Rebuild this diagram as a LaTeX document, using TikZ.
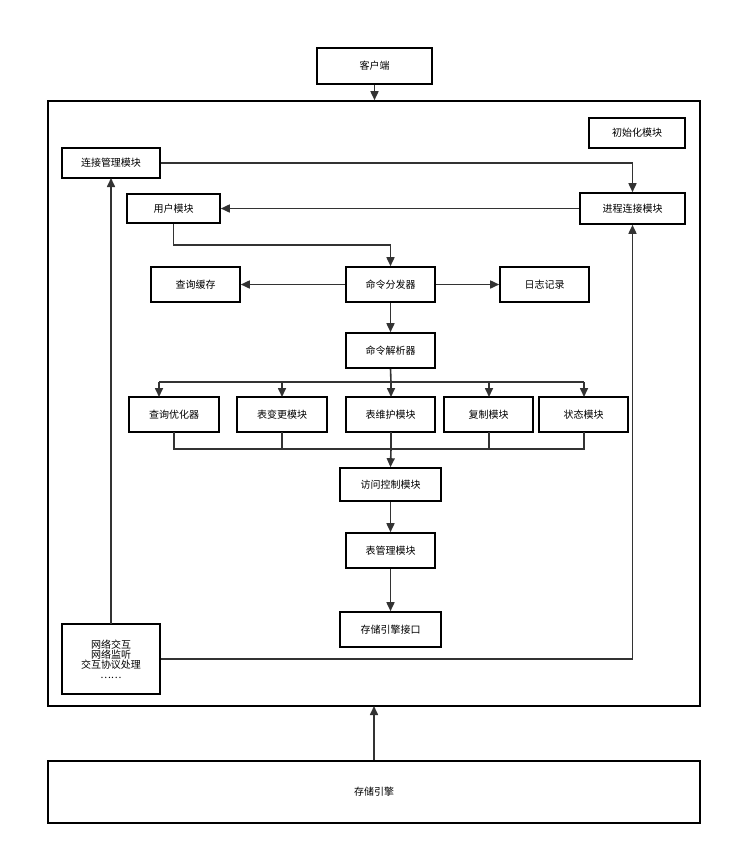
\documentclass[tikz,border=0pt]{standalone}
\usepackage{fontspec}
\setmainfont{Noto Sans CJK SC}
\usetikzlibrary{arrows.meta}
\begin{document}
\begin{tikzpicture}[x=1pt,y=-1pt,
  bx/.style={draw=black,line width=1.6pt,inner sep=0pt,font=\fontsize{10}{12}\selectfont,align=center},
  ar/.style={draw=black!80,line width=1.6pt,-{Triangle[length=9pt,width=8pt]}},
  ln/.style={draw=black!80,line width=1.6pt}]
\useasboundingbox[fill=white] (0,0) rectangle (732,855);
\newcommand{\bxat}[5]{\node[bx,minimum width=#3-#2,minimum height=#5-#4] (#1) at ({(#2+#3)/2},{(#4+#5)/2})}
\bxat{client}{317}{432}{48}{84}{客户端};
\bxat{outer}{48}{700}{101}{706}{};
\bxat{init}{589}{685}{118}{148}{初始化模块};
\bxat{conn}{62}{160}{148}{178}{连接管理模块};
\bxat{proc}{580}{685}{193}{224}{进程连接模块};
\bxat{user}{127}{220}{194}{223}{用户模块};
\bxat{qc}{151}{240}{267}{302}{查询缓存};
\bxat{disp}{346}{435}{267}{302}{命令分发器};
\bxat{log}{500}{589}{267}{302}{日志记录};
\bxat{parse}{346}{435}{333}{368}{命令解析器};
\bxat{r1}{129}{219}{397}{432}{查询优化器};
\bxat{r2}{237}{327}{397}{432}{表变更模块};
\bxat{r3}{346}{435}{397}{432}{表维护模块};
\bxat{r4}{444}{533}{397}{432}{复制模块};
\bxat{r5}{539}{628}{397}{432}{状态模块};
\bxat{acc}{340}{441}{468}{501}{访问控制模块};
\bxat{tbl}{346}{435}{533}{568}{表管理模块};
\bxat{sei}{340}{441}{612}{647}{存储引擎接口};
\bxat{net}{62}{160}{624}{694}{网络交互\\[-2pt]网络监听\\[-2pt]交互协议处理\\[-2pt]……};
\bxat{se}{48}{700}{761}{823}{存储引擎};
\draw[ar] (client) -- (client.south|-outer.north);
\draw[ar] (conn.east) -| (proc.north);
\draw[ar] (proc.west) -- (proc.west-|user.east);
\draw[ar] (user.south) |- (174,245) -| (disp.north);
\draw[ar] (disp) -- (qc);
\draw[ar] (disp) -- (log);
\draw[ar] (disp) -- (parse);
\coordinate (hb) at (391,382);
\draw[ln] (parse.south) -- (hb);
\draw[ln] (159,382) -- (584,382);
\foreach \n/\x in {r1/159,r2/282,r3/391,r4/489,r5/584} \draw[ar] (\x,382) -- (\x,397);
\draw[ln] (174,432) |- (584,449) -- (584,432);
\foreach \x in {282,391,489} \draw[ln] (\x,432) -- (\x,449);
\draw[ar] (391,449) -- (acc.north);
\draw[ar] (acc) -- (tbl);
\draw[ar] (tbl) -- (sei);
\draw[ar] (111,624) -- (111,178);
\draw[ar] (net.east) -| (proc.south);
\draw[ar] (se.north) -- (374,706);
\end{tikzpicture}
\end{document}
